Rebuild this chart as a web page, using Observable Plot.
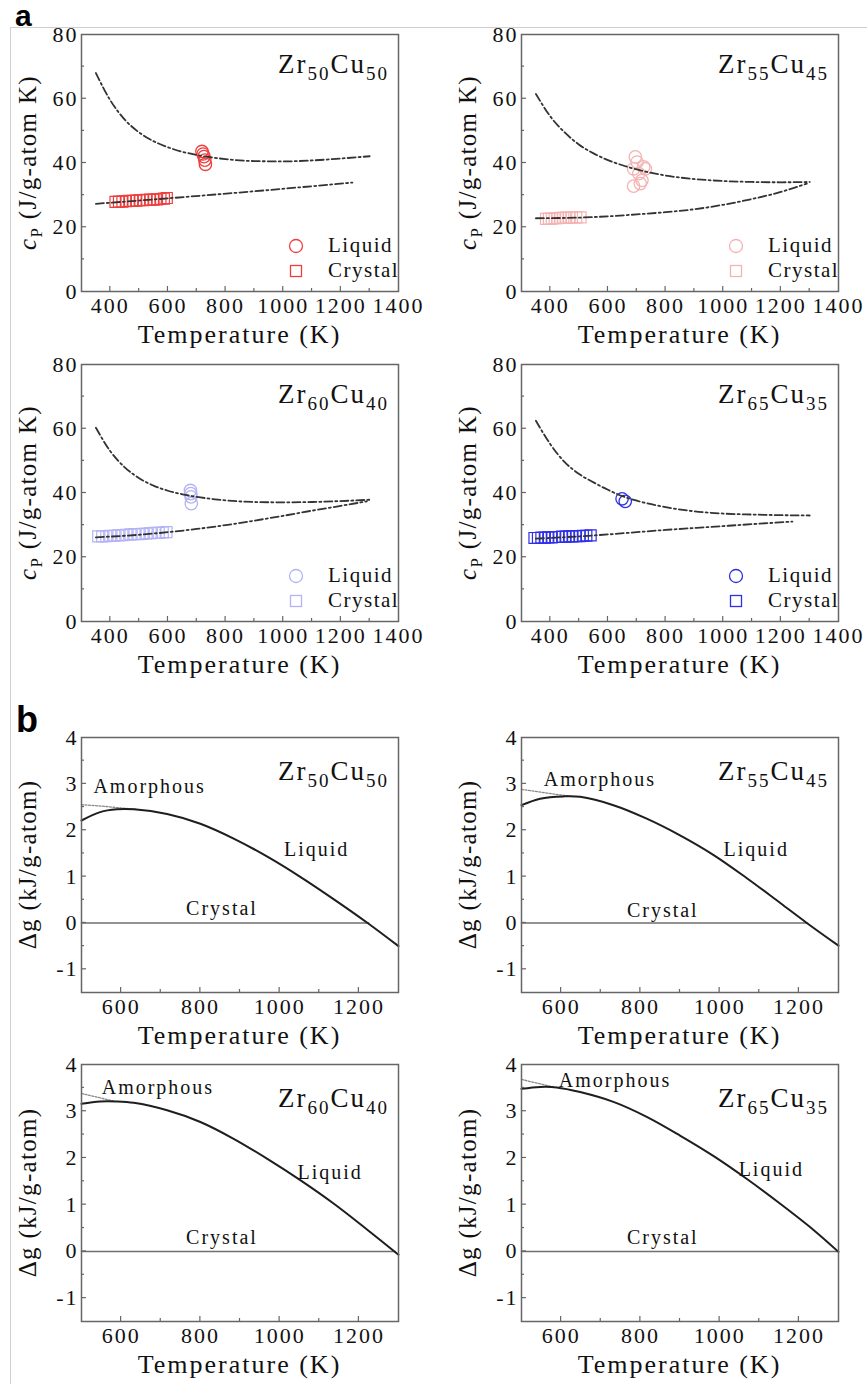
<!DOCTYPE html>
<html><head><meta charset="utf-8">
<script src="https://cdn.jsdelivr.net/npm/d3@7"></script>
<script src="https://cdn.jsdelivr.net/npm/@observablehq/plot@0.6"></script>
<style>
html,body{margin:0;padding:0;background:#fff;}
#root{position:relative;width:867px;height:1384px;overflow:hidden;background:#fff;}
#border{position:absolute;left:10px;top:27px;right:0;bottom:0;border-top:1px solid #cfcfcf;border-left:1px solid #cfcfcf;}
#root svg{position:absolute;}
</style></head><body><div id="root"><div id="border"></div></div>
<script>
// ---------------- DATA ----------------
const compositions = [["50","50"],["55","45"],["60","40"],["65","35"]];
const seriesColors = ["#ef3e3e","#f4b3b3","#b3b3f4","#2f2fe8"];

// panel a: cp fits (dash-dot)
const cpFitT = [350,400,450,500,550,600,650,700,800,900,1000,1100,1200,1300];
const cpLiquidFit_50 = [68.0,59.5,53.5,49.5,46.8,44.9,43.5,42.5,41.2,40.6,40.5,40.8,41.4,42.1];
const cpLiquidFit_55 = [61.5,54.5,49.5,45.7,43.0,40.9,39.3,38.0,36.1,35.0,34.4,34.1,34.0,34.1];
const cpLiquidFit_60 = [60.3,53.0,48.0,44.6,42.3,40.7,39.6,38.8,37.7,37.2,37.1,37.2,37.5,37.9];
const cpLiquidFit_65 = [62.5,55.2,49.6,45.9,43.3,41.0,39.0,37.6,35.6,34.3,33.6,33.3,33.1,33.0];

const cpCrystalFitT_50 = [350,600,900,1240];
const cpCrystalFit_50  = [27.3,29.0,31.2,33.9];
const cpCrystalFitT_55 = [350,500,600,700,800,900,1000,1100,1200,1290];
const cpCrystalFit_55  = [22.8,23.0,23.4,24.0,24.7,25.6,27.0,28.8,31.0,33.6];
const cpCrystalFitT_60 = [350,500,600,700,800,900,1000,1100,1200,1290];
const cpCrystalFit_60  = [26.2,27.0,27.8,28.8,30.0,31.4,32.9,34.5,36.0,37.4];
const cpCrystalFitT_65 = [350,500,600,700,800,900,1000,1100,1240];
const cpCrystalFit_65  = [25.8,26.5,27.1,27.8,28.5,29.1,29.7,30.3,31.1];

// panel a: measured points
const crystalT_50  = [418,430,442,454,466,478,490,502,514,526,538,550,562,574,586,596];
const crystalCp_50 = [27.9,28.0,28.0,28.1,28.2,28.2,28.3,28.4,28.4,28.5,28.6,28.6,28.7,28.8,28.9,29.1];
const liquidT_50   = [718,722,725,728,730];
const liquidCp_50  = [43.6,42.8,42.0,40.9,39.6];

const crystalT_55  = [385,395,405,415,425,435,445,455,465,475,490,505];
const crystalCp_55 = [22.6,22.7,22.7,22.8,22.8,22.9,22.9,23.0,23.0,23.0,23.1,23.1];
const liquidT_55   = [695,701,689,707,724,730,718,689,712];
const liquidCp_55  = [41.9,40.3,38.2,36.7,38.8,38.2,34.6,32.8,33.6];

const crystalT_60  = [358,372,386,400,414,428,442,456,470,484,498,512,526,540,554,568,582,595];
const crystalCp_60 = [26.5,26.5,26.6,26.7,26.7,26.8,26.9,27.0,27.1,27.2,27.2,27.3,27.4,27.5,27.6,27.6,27.7,27.8];
const liquidT_60   = [678,679,680,681];
const liquidCp_60  = [40.8,39.8,38.8,36.7];

const crystalT_65  = [345,357,369,381,393,405,417,429,441,453,465,477,489,501,513,525,540];
const crystalCp_65 = [26.0,26.0,26.1,26.1,26.2,26.2,26.3,26.3,26.4,26.4,26.5,26.5,26.6,26.6,26.7,26.7,26.8];
const liquidT_65   = [649,660];
const liquidCp_65  = [38.2,37.4];

const cpXTicks = [400,600,800,1000,1200,1400];
const cpXMinor = [500,700,900,1100,1300];
const cpYTicks = [0,20,40,60,80];
const cpYMinor = [10,30,50,70];

// panel b: Δg curves
const dgLiquidT_50 = [500,547,589,632,716,800,884,969,1053,1137,1222,1300];
const dgLiquid_50  = [2.21,2.39,2.45,2.45,2.35,2.14,1.82,1.43,0.99,0.51,0.0,-0.5];
const dgAmorphT_50 = [500,550,600,640];
const dgAmorph_50  = [2.55,2.52,2.48,2.45];
const dgCrystalT_50 = [500,1225];

const dgLiquidT_55 = [500,547,606,648,732,816,900,984,1068,1153,1220,1300];
const dgLiquid_55  = [2.54,2.68,2.73,2.72,2.54,2.25,1.89,1.47,0.97,0.43,0.0,-0.49];
const dgAmorphT_55 = [500,550,600,625];
const dgAmorph_55  = [2.88,2.82,2.76,2.73];
const dgCrystalT_55 = [500,1222];

const dgLiquidT_60 = [500,547,589,632,716,800,884,969,1053,1137,1222,1300];
const dgLiquid_60  = [3.16,3.21,3.21,3.18,3.02,2.77,2.41,1.98,1.52,1.02,0.46,-0.07];
const dgAmorphT_60 = [500,540,580];
const dgAmorph_60  = [3.38,3.30,3.22];
const dgCrystalT_60 = [500,1292];

const dgLiquidT_65 = [500,547,589,648,732,816,900,985,1069,1153,1237,1300];
const dgLiquid_65  = [3.48,3.52,3.51,3.41,3.20,2.88,2.48,2.04,1.55,1.02,0.46,-0.01];
const dgAmorphT_65 = [500,540,580];
const dgAmorph_65  = [3.68,3.60,3.52];
const dgCrystalT_65 = [500,1300];

const phaseNames = ["Amorphous","Liquid","Crystal"];
const phaseLabelT = [[530,1011,764],[556,1010,766],[551,1045,764],[594,1048,766]];
const phaseLabelG = [[2.82,1.46,0.17],[2.97,1.46,0.14],[3.38,1.55,0.16],[3.52,1.62,0.16]];

const dgXTicks = [600,800,1000,1200];
const dgXMinor = [700,900,1100];
const dgYTicks = [-1,0,1,2,3,4];
const dgYMinor = [-0.5,0.5,1.5,2.5,3.5];

// ---------------- DRAWING ----------------
const FONT = "'Liberation Serif','Times New Roman',serif";
const root = document.getElementById("root");
const zip = (xs, ys) => xs.map((x, i) => ({x, y: ys[i]}));
const ML = 81, MR = 32, MT = 20, MB = 53, W = 430;

function decorate(plot, o) {
  const svg = d3.select(plot);
  const sx = plot.scale("x"), sy = plot.scale("y");
  const fx0 = ML, fx1 = W - MR, fy0 = MT, fy1 = o.height - MB;
  const g = svg.append("g").attr("stroke", "#666").attr("stroke-width", 1.2);
  for (const v of o.xTicks) if (v > o.xDomain[0] && v < o.xDomain[1]) g.append("line").attr("x1", sx.apply(v)).attr("x2", sx.apply(v)).attr("y1", fy1).attr("y2", fy1 - 5);
  for (const v of o.xMinor) g.append("line").attr("x1", sx.apply(v)).attr("x2", sx.apply(v)).attr("y1", fy1).attr("y2", fy1 - 3);
  for (const v of o.yTicks) if (v > o.yDomain[0] && v < o.yDomain[1]) g.append("line").attr("y1", sy.apply(v)).attr("y2", sy.apply(v)).attr("x1", fx0).attr("x2", fx0 + 5);
  for (const v of o.yMinor) g.append("line").attr("y1", sy.apply(v)).attr("y2", sy.apply(v)).attr("x1", fx0).attr("x2", fx0 + 3);

  // x axis title
  svg.append("text").attr("x", (fx0 + fx1) / 2).attr("y", fy1 + 52).attr("text-anchor", "middle")
    .attr("font-size", 26).attr("letter-spacing", "2px").attr("fill", "#111").text("Temperature (K)");
  // y axis title
  const yt = svg.append("text").attr("transform", `translate(${fx0 - 45},${(fy0 + fy1) / 2}) rotate(-90)`)
    .attr("text-anchor", "middle").attr("font-size", 25).attr("letter-spacing", "1.3px").attr("fill", "#111");
  if (o.kind === "a") {
    yt.append("tspan").attr("font-style", "italic").text("c");
    yt.append("tspan").attr("font-size", 17).attr("dy", 6).text("P");
    yt.append("tspan").attr("dy", -6).text(" (J/g-atom K)");
  } else {
    yt.text("Δg (kJ/g-atom)");
  }
  // composition title
  const tt = svg.append("text").attr("x", fx1 - 9).attr("y", fy0 + o.titleDy).attr("text-anchor", "end")
    .attr("font-size", 27).attr("letter-spacing", "2px").attr("fill", "#111");
  tt.append("tspan").text("Zr");
  tt.append("tspan").attr("font-size", 19).attr("dy", 7).text(o.comp[0]);
  tt.append("tspan").attr("dy", -7).text("Cu");
  tt.append("tspan").attr("font-size", 19).attr("dy", 7).text(o.comp[1]);

  if (o.kind === "a") {
    const lg = svg.append("g");
    lg.append("circle").attr("cx", fx0 + 215).attr("cy", fy0 + 212).attr("r", 6.5)
      .attr("fill", "none").attr("stroke", o.color).attr("stroke-width", 1.3);
    lg.append("rect").attr("x", fx0 + 215 - 5.5).attr("y", fy0 + 237 - 5.5).attr("width", 11).attr("height", 11)
      .attr("fill", "none").attr("stroke", o.color).attr("stroke-width", 1.3);
    lg.append("text").attr("x", fx0 + 247).attr("y", fy0 + 218).attr("text-anchor", "start").attr("font-size", 21).attr("letter-spacing", "1.5px").attr("fill", "#111").text("Liquid");
    lg.append("text").attr("x", fx0 + 247).attr("y", fy0 + 243).attr("text-anchor", "start").attr("font-size", 21).attr("letter-spacing", "1.5px").attr("fill", "#111").text("Crystal");
  }
}

function basePlot(o, marks) {
  const plot = Plot.plot({
    width: W, height: o.height,
    marginLeft: ML, marginRight: MR, marginTop: MT, marginBottom: MB,
    x: {domain: o.xDomain},
    y: {domain: o.yDomain},
    style: {fontFamily: FONT, fontSize: "22px", background: "none", overflow: "visible", letterSpacing: "2px", color: "#111"},
    marks: [
      Plot.axisX({ticks: o.xTicks, tickSize: 0, tickPadding: 6, label: null, tickFormat: d => String(d)}),
      Plot.axisY({ticks: o.yTicks, tickSize: 0, tickPadding: 3, label: null, tickFormat: d => String(d)}),
      ...marks,
      Plot.frame({stroke: "#666", strokeWidth: 1.5})
    ]
  });
  plot.style.left = o.left + "px";
  plot.style.top = o.top + "px";
  decorate(plot, o);
  root.appendChild(plot);
}

const aData = [
  {liq: cpLiquidFit_50, cT: cpCrystalFitT_50, c: cpCrystalFit_50, pT: crystalT_50, pC: crystalCp_50, lT: liquidT_50, lC: liquidCp_50},
  {liq: cpLiquidFit_55, cT: cpCrystalFitT_55, c: cpCrystalFit_55, pT: crystalT_55, pC: crystalCp_55, lT: liquidT_55, lC: liquidCp_55},
  {liq: cpLiquidFit_60, cT: cpCrystalFitT_60, c: cpCrystalFit_60, pT: crystalT_60, pC: crystalCp_60, lT: liquidT_60, lC: liquidCp_60},
  {liq: cpLiquidFit_65, cT: cpCrystalFitT_65, c: cpCrystalFit_65, pT: crystalT_65, pC: crystalCp_65, lT: liquidT_65, lC: liquidCp_65}
];
const aPos = [[0,14],[440,14],[0,344],[440,344]];
aData.forEach((d, i) => {
  const o = {kind: "a", left: aPos[i][0], top: aPos[i][1], height: 330, xDomain: [300,1400], yDomain: [0,80],
    xTicks: cpXTicks, xMinor: cpXMinor, yTicks: cpYTicks, yMinor: cpYMinor,
    comp: compositions[i], color: seriesColors[i], titleDy: 39};
  const dash = {stroke: "#333", strokeWidth: 1.8, strokeDasharray: "8,3,2,3", curve: "monotone-x"};
  basePlot(o, [
    Plot.dot(zip(d.pT, d.pC), {x: "x", y: "y", symbol: "square", r: 6.2, stroke: o.color, strokeWidth: 1.2}),
    Plot.dot(zip(d.lT, d.lC), {x: "x", y: "y", symbol: "circle", r: 6.2, stroke: o.color, strokeWidth: 1.3}),
    Plot.line(zip(cpFitT, d.liq), {x: "x", y: "y", ...dash}),
    Plot.line(zip(d.cT, d.c), {x: "x", y: "y", ...dash})
  ]);
});

const bData = [
  {lT: dgLiquidT_50, l: dgLiquid_50, aT: dgAmorphT_50, a: dgAmorph_50, cT: dgCrystalT_50},
  {lT: dgLiquidT_55, l: dgLiquid_55, aT: dgAmorphT_55, a: dgAmorph_55, cT: dgCrystalT_55},
  {lT: dgLiquidT_60, l: dgLiquid_60, aT: dgAmorphT_60, a: dgAmorph_60, cT: dgCrystalT_60},
  {lT: dgLiquidT_65, l: dgLiquid_65, aT: dgAmorphT_65, a: dgAmorph_65, cT: dgCrystalT_65}
];
const bPos = [[0,717],[440,717],[0,1044],[440,1044]];
bData.forEach((d, i) => {
  const o = {kind: "b", left: bPos[i][0], top: bPos[i][1], height: i < 2 ? 328 : 330, xDomain: [500,1300], yDomain: [-1.5,4],
    xTicks: dgXTicks, xMinor: dgXMinor, yTicks: dgYTicks, yMinor: dgYMinor,
    comp: compositions[i], titleDy: 43};
  const labels = phaseNames.map((name, j) => ({name, x: phaseLabelT[i][j], y: phaseLabelG[i][j]}));
  basePlot(o, [
    Plot.line(d.cT.map(t => ({x: t, y: 0})), {x: "x", y: "y", stroke: "#6f6f6f", strokeWidth: 1.5}),
    Plot.line(zip(d.aT, d.a), {x: "x", y: "y", stroke: "#888", strokeWidth: 1.3, strokeDasharray: "2,1.5", curve: "monotone-x"}),
    Plot.line(zip(d.lT, d.l), {x: "x", y: "y", stroke: "#1e1e1e", strokeWidth: 2, curve: "catmull-rom"}),
    Plot.text(labels, {x: "x", y: "y", text: "name", textAnchor: "start", fontSize: 20, dy: -6, fill: "#111"})
  ]);
});

// panel letters
const over = d3.create("svg").attr("width", 867).attr("height", 1384).style("left", "0px").style("top", "0px").style("pointer-events", "none");
over.append("text").attr("x", 15).attr("y", 26).attr("font-family", "'Liberation Sans',Arial,sans-serif").attr("font-weight", "bold").attr("font-size", 30).text("a");
over.append("text").attr("x", 16).attr("y", 732).attr("font-family", "'Liberation Sans',Arial,sans-serif").attr("font-weight", "bold").attr("font-size", 36).text("b");
root.appendChild(over.node());
</script></body></html>
